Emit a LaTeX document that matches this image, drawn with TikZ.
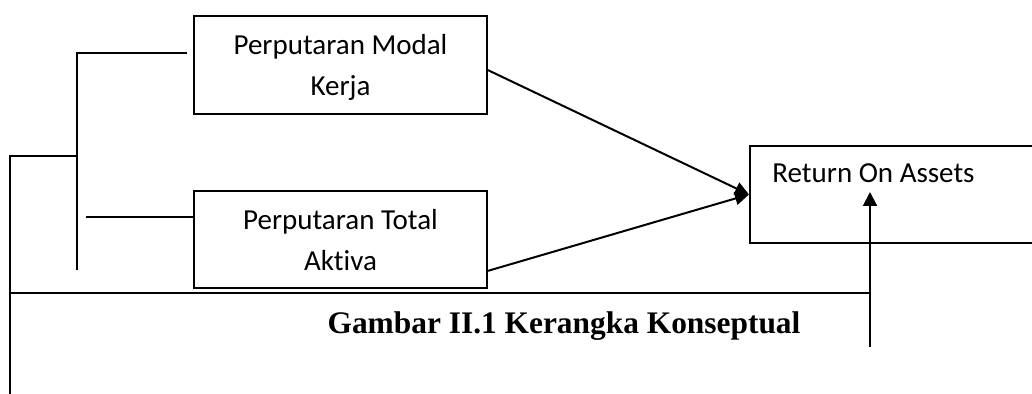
\documentclass[tikz,border=0pt]{standalone}
\usepackage{fontspec}
\setmainfont{Carlito}[Ligatures=NoCommon]
\newfontfamily\captionfont{Liberation Serif}
\usetikzlibrary{arrows.meta, positioning}

\begin{document}
\begin{tikzpicture}[x=0.5pt, y=-0.5pt,
		box/.style={shape=rectangle, draw, line width=1pt},
		label/.style={anchor=center, align=center, inner sep=0pt, font=\fontsize{14.5}{20.5}\selectfont},
		wire/.style={line width=1pt},
		tip/.style={-{Triangle[length=7pt, width=6.5pt]}}]
	\clip (0,0) rectangle (1032,394);
	% Paths, nodes and wires:
	\node[box, minimum width=146.5pt, minimum height=49pt] (modal) at (340.5, 65){} node[label] (modaltext) at (340.5, 67){Perputaran Modal\\Kerja};
	\node[box, minimum width=146.5pt, minimum height=48.5pt] (total) at (340.5, 239.5){} node[label] (totaltext) at (340.5, 240){Perputaran Total\\Aktiva};
	\node[box, minimum width=143pt, minimum height=48.5pt] (roa) at (893, 194.5){} node[label, anchor=base west] (roatext) at (772, 183){Return On Assets};
	\node[font=\captionfont\bfseries\fontsize{15.7}{19}\selectfont, inner sep=0pt] (caption) at (564, 326){Gambar II.1 Kerangka Konseptual};

	\coordinate (brtop) at (187, 53);
	\coordinate (brknee) at (77, 53);
	\coordinate (brfoot) at (77, 270);
	\coordinate (brmid) at (77, 156);
	\coordinate (outer) at (10, 156);
	\coordinate (outerfoot) at (10, 394);
	\coordinate (stub) at (86, 217);
	\coordinate (baseleft) at (10, 293);
	\coordinate (baseright) at (870, 293);
	\coordinate (upfoot) at (870, 347);
	\coordinate (uptip) at (870, 192);

	\draw[wire] (brtop) -- (brknee) -- (brfoot);
	\draw[wire] (outerfoot) -- (outer) -- (brmid);
	\draw[wire] (stub) -- (stub -| total.west);
	\draw[wire] (baseleft) -- (baseright);
	\draw[wire, tip] (modal.-2) -- (roa.west);
	\draw[wire, tip] (total.-12) -- (roa.west);
	\draw[wire, -{Triangle[length=7pt, width=7pt]}] (upfoot) -- (uptip);
\end{tikzpicture}
\end{document}
